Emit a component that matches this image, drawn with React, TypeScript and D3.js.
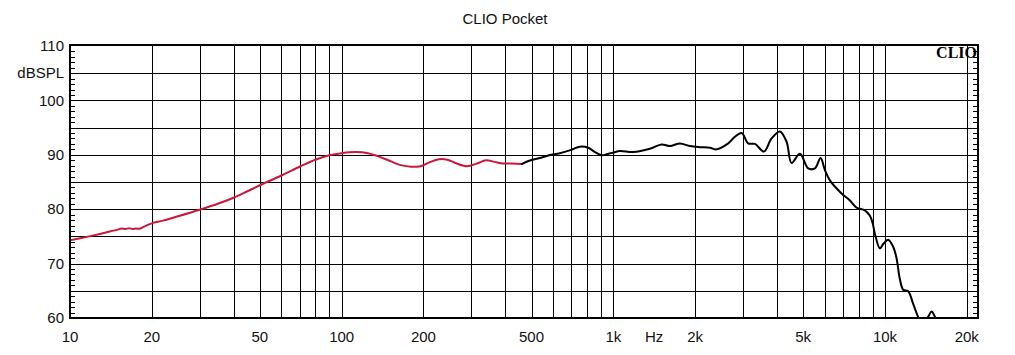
import React from "react";
import * as d3 from "d3";

const redFreq = [10, 11, 12, 13, 14, 15, 15.5, 16, 16.5, 17, 17.5, 18, 18.5, 19, 20, 22, 25, 30, 35, 40, 45, 50, 60, 70, 80, 90, 100, 113, 125, 135, 150, 165, 180, 195, 210, 228, 245, 265, 290, 315, 340, 365, 393, 425, 460];
const redDb = [74.3, 74.7, 75.1, 75.5, 75.9, 76.25, 76.45, 76.35, 76.5, 76.35, 76.45, 76.4, 76.65, 76.95, 77.4, 77.9, 78.7, 79.9, 81.0, 82.1, 83.3, 84.4, 86.2, 87.8, 89.1, 89.9, 90.3, 90.5, 90.3, 89.8, 88.9, 88.1, 87.8, 87.9, 88.6, 89.2, 89.1, 88.4, 87.9, 88.4, 89.0, 88.7, 88.4, 88.4, 88.3];

const blackFreq = [460, 490, 535, 580, 636, 700, 753, 808, 850, 906, 960, 1000, 1057, 1184, 1363, 1506, 1616, 1759, 1914, 2083, 2267, 2400, 2648, 2800, 2967, 3137, 3321, 3584, 3824, 4104, 4343, 4532, 4863, 5217, 5521, 5794, 6010, 6270, 6920, 7430, 7860, 8430, 8800, 9000, 9180, 9580, 9850, 10270, 10720, 11030, 11340, 11670, 12170, 12700, 13250, 13700, 14100, 14450, 14850, 15270, 15700, 16200];
const blackDb = [88.3, 88.9, 89.4, 89.9, 90.3, 90.9, 91.5, 91.3, 90.6, 89.9, 90.2, 90.4, 90.7, 90.5, 91.1, 91.9, 91.6, 92.1, 91.6, 91.4, 91.3, 91.0, 92.1, 93.3, 94.0, 92.1, 92.0, 90.6, 93.0, 94.3, 92.4, 88.5, 90.2, 87.5, 87.5, 89.4, 87.2, 85.3, 82.9, 81.6, 80.3, 79.8, 78.8, 77.5, 75.5, 72.8, 73.6, 74.4, 73.1, 71.0, 67.2, 65.2, 64.9, 62.6, 60.2, 59.0, 59.5, 60.3, 61.2, 60.2, 58.8, 57.5];

const gridFreqs = [20, 30, 40, 50, 60, 70, 80, 90, 100, 200, 300, 400, 500, 600, 700, 800, 900, 1000, 2000, 3000, 4000, 5000, 6000, 7000, 8000, 9000, 10000, 20000];
const xTickFreqs = [10, 20, 50, 100, 200, 500, 1000, 2000, 5000, 10000, 20000];
const xTickLabels = ["10", "20", "50", "100", "200", "500", "1k", "2k", "5k", "10k", "20k"];
const yGrid = [65, 70, 75, 80, 85, 90, 95, 100, 105];
const yTickVals = [60, 70, 80, 90, 100, 110];
const yTickLabels = ["60", "70", "80", "90", "100", "110"];

export default function App() {
  const W = 1015, H = 355;
  const L = 70, R = 978, T = 46, B = 318;
  const x = d3.scaleLog().domain([10, 22000]).range([L, R]);
  const y = d3.scaleLinear().domain([60, 110]).range([B, T]);
  const line = d3
    .line<[number, number]>()
    .x((d) => x(d[0]))
    .y((d) => y(d[1]))
    .curve(d3.curveCatmullRom.alpha(0.5));
  const redPath = line(redFreq.map((f, i) => [f, redDb[i]]) as [number, number][]) || "";
  const blackPath = line(blackFreq.map((f, i) => [f, blackDb[i]]) as [number, number][]) || "";
  const minor = d3.range(61, 110);
  const font = "'Liberation Sans', Arial, sans-serif";
  return (
    <svg width={W} height={H} style={{ position: "absolute", left: 0, top: 0, background: "#fff" }}>
      <defs>
        <clipPath id="plot">
          <rect x={L} y={T} width={R - L} height={B - T} />
        </clipPath>
      </defs>
      <rect x={0} y={0} width={W} height={H} fill="#fff" />
      <text x={505} y={24} textAnchor="middle" fontFamily={font} fontSize={15} fill="#111">
        CLIO Pocket
      </text>
      <g shapeRendering="crispEdges" stroke="#000" strokeWidth={1}>
        {gridFreqs.map((f) => (
          <line key={"v" + f} x1={Math.round(x(f)) + 0.5} x2={Math.round(x(f)) + 0.5} y1={T} y2={B} />
        ))}
        {yGrid.map((v) => (
          <line key={"h" + v} x1={L} x2={R} y1={Math.round(y(v)) + 0.5} y2={Math.round(y(v)) + 0.5} />
        ))}
        {minor.map((v) => (
          <g key={"m" + v}>
            <line x1={L} x2={L + 5} y1={Math.round(y(v)) + 0.5} y2={Math.round(y(v)) + 0.5} />
            <line x1={R - 5} x2={R} y1={Math.round(y(v)) + 0.5} y2={Math.round(y(v)) + 0.5} />
          </g>
        ))}
      </g>
      <g clipPath="url(#plot)" fill="none" strokeLinejoin="round" strokeLinecap="round">
        <path d={redPath} stroke="#c8193c" strokeWidth={2} />
        <path d={blackPath} stroke="#000" strokeWidth={2} />
      </g>
      <rect x={L} y={T - 1} width={R - L} height={B - T + 1} fill="none" stroke="#000" strokeWidth={2} shapeRendering="crispEdges" />
      <text x={R - 1} y={58} textAnchor="end" fontFamily="'Liberation Serif', 'Times New Roman', serif" fontWeight="bold" fontSize={16} fill="#000">
        CLIO
      </text>
      <g fontFamily={font} fontSize={15} fill="#111">
        {yTickVals.map((v, i) => (
          <text key={"yl" + v} x={64} y={y(v)} dy="0.35em" textAnchor="end">
            {yTickLabels[i]}
          </text>
        ))}
        <text x={64} y={y(105)} dy="0.35em" textAnchor="end">
          dBSPL
        </text>
        {xTickFreqs.map((f, i) => (
          <text key={"xl" + f} x={x(f)} y={342} textAnchor="middle">
            {xTickLabels[i]}
          </text>
        ))}
        <text x={x(1414)} y={342} textAnchor="middle">
          Hz
        </text>
      </g>
    </svg>
  );
}
